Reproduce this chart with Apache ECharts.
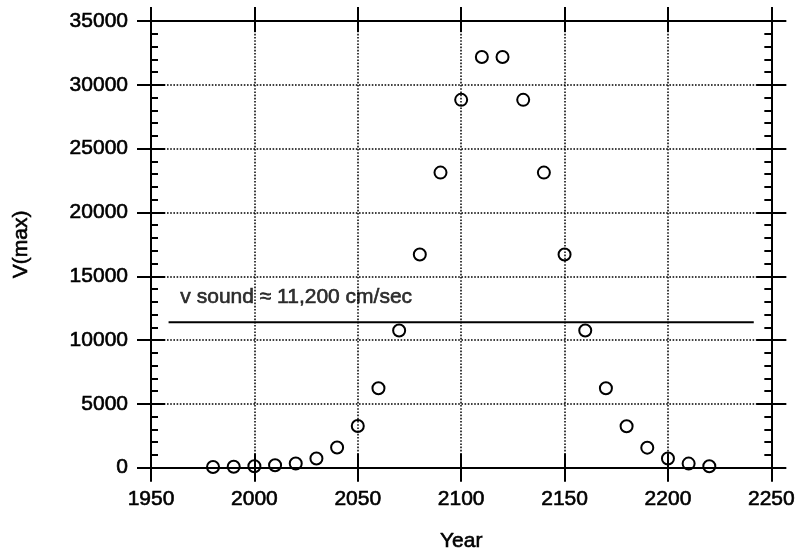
<!DOCTYPE html>
<html>
<head>
<meta charset="utf-8">
<script src="https://cdn.jsdelivr.net/npm/echarts@6/dist/echarts.min.js"></script>
<style>
  html, body { margin: 0; padding: 0; background: #fff; }
  #main { width: 798px; height: 557px; }
</style>
</head>
<body>
<div id="main"></div>
<script>
// values
const years = [1980, 1990, 2000, 2010, 2020, 2030, 2040, 2050, 2060, 2070, 2080, 2090, 2100,
               2110, 2120, 2130, 2140, 2150, 2160, 2170, 2180, 2190, 2200, 2210, 2220]
const vmax = [60, 70, 110, 190, 330, 720, 1580, 3270, 6220, 10750, 16700, 23120, 28820,
              32180, 32180, 28820, 23120, 16700, 10750, 6230, 3250, 1570, 720, 320, 110]
const soundX = [1958.5, 2241.5]
const soundV = 11400
const soundText = 'v sound \u2248 11,200 cm/sec'
const soundTextAt = [1964.2, 13340]

const FONT = "'Liberation Sans', Arial, sans-serif"
const INK = '#000'

const chart = echarts.init(document.getElementById('main'), null, { renderer: 'canvas' })

// scanned print text is a bit heavier than regular weight
const txt = { fontFamily: FONT, fontSize: 21, color: INK, textBorderColor: INK, textBorderWidth: 0.6 }
const lineStyle = { color: INK, width: 2 }
const tick = (inside, len) => ({ show: true, inside: inside, length: len, lineStyle: { color: INK, width: 2 } })
const dotted = { show: true, lineStyle: { color: INK, width: 1.5, type: [1.6, 1.6] } }
const plain = v => String(v)

const xBase = { type: 'value', min: 1950, max: 2250, interval: 50, gridIndex: 0 }
const yBase = { type: 'value', min: 0, max: 35000, interval: 5000, gridIndex: 0 }

let option = {
  animation: false,
  backgroundColor: '#fff',
  textStyle: { fontFamily: FONT, color: INK },
  grid: { left: 151, right: 26, top: 21, bottom: 88 },
  xAxis: [
    Object.assign({}, xBase, {
      position: 'bottom',
      name: 'Year', nameLocation: 'middle', nameGap: 63,
      nameTextStyle: txt,
      axisLine: { show: true, onZero: false, lineStyle: lineStyle },
      axisTick: tick(false, 14),
      axisLabel: Object.assign({ margin: 21, formatter: plain }, txt),
      splitLine: dotted
    }),
    Object.assign({}, xBase, {
      position: 'bottom',
      axisLine: { show: false, onZero: false },
      axisTick: tick(true, 14),
      axisLabel: { show: false },
      splitLine: { show: false }
    }),
    Object.assign({}, xBase, {
      position: 'top',
      axisLine: { show: true, onZero: false, lineStyle: lineStyle },
      axisTick: tick(false, 14),
      axisLabel: { show: false },
      splitLine: { show: false }
    }),
    Object.assign({}, xBase, {
      position: 'top',
      axisLine: { show: false, onZero: false },
      axisTick: tick(true, 11),
      axisLabel: { show: false },
      splitLine: { show: false }
    })
  ],
  yAxis: [
    Object.assign({}, yBase, {
      position: 'left',
      name: 'V(max)', nameLocation: 'middle', nameGap: 119, nameRotate: 90,
      nameTextStyle: txt,
      axisLine: { show: true, onZero: false, lineStyle: lineStyle },
      axisTick: tick(false, 14),
      axisLabel: Object.assign({ margin: 23, formatter: plain }, txt),
      splitLine: dotted
    }),
    Object.assign({}, yBase, {
      position: 'left',
      axisLine: { show: false, onZero: false },
      axisTick: tick(true, 14),
      minorTick: { show: true, splitNumber: 5, length: 7, lineStyle: { color: INK, width: 2 } },
      axisLabel: { show: false },
      splitLine: { show: false }
    }),
    Object.assign({}, yBase, {
      position: 'right',
      axisLine: { show: true, onZero: false, lineStyle: lineStyle },
      axisTick: tick(false, 15),
      axisLabel: { show: false },
      splitLine: { show: false }
    }),
    Object.assign({}, yBase, {
      position: 'right',
      axisLine: { show: false, onZero: false },
      axisTick: tick(true, 15),
      minorTick: { show: true, splitNumber: 5, length: 7, lineStyle: { color: INK, width: 2 } },
      axisLabel: { show: false },
      splitLine: { show: false }
    })
  ],
  series: [
    {
      type: 'line',
      xAxisIndex: 0, yAxisIndex: 0,
      clip: false,
      symbol: 'none',
      lineStyle: { color: INK, width: 2 },
      data: soundX.map(x => [x, soundV]),
      silent: true
    },
    {
      type: 'scatter',
      xAxisIndex: 0, yAxisIndex: 0,
      symbolSize: 0,
      clip: false,
      itemStyle: { color: INK },
      label: Object.assign({ show: true, position: 'right', distance: 0, formatter: soundText }, txt),
      data: [soundTextAt],
      silent: true
    },
    {
      type: 'scatter',
      xAxisIndex: 0, yAxisIndex: 0,
      symbol: 'circle',
      symbolSize: 12,
      clip: false,
      itemStyle: { color: 'rgba(0,0,0,0)', borderColor: INK, borderWidth: 2, opacity: 1 },
      data: years.map((y, i) => [y, vmax[i]])
    }
  ]
}

option && chart.setOption(option)
</script>
</body>
</html>
